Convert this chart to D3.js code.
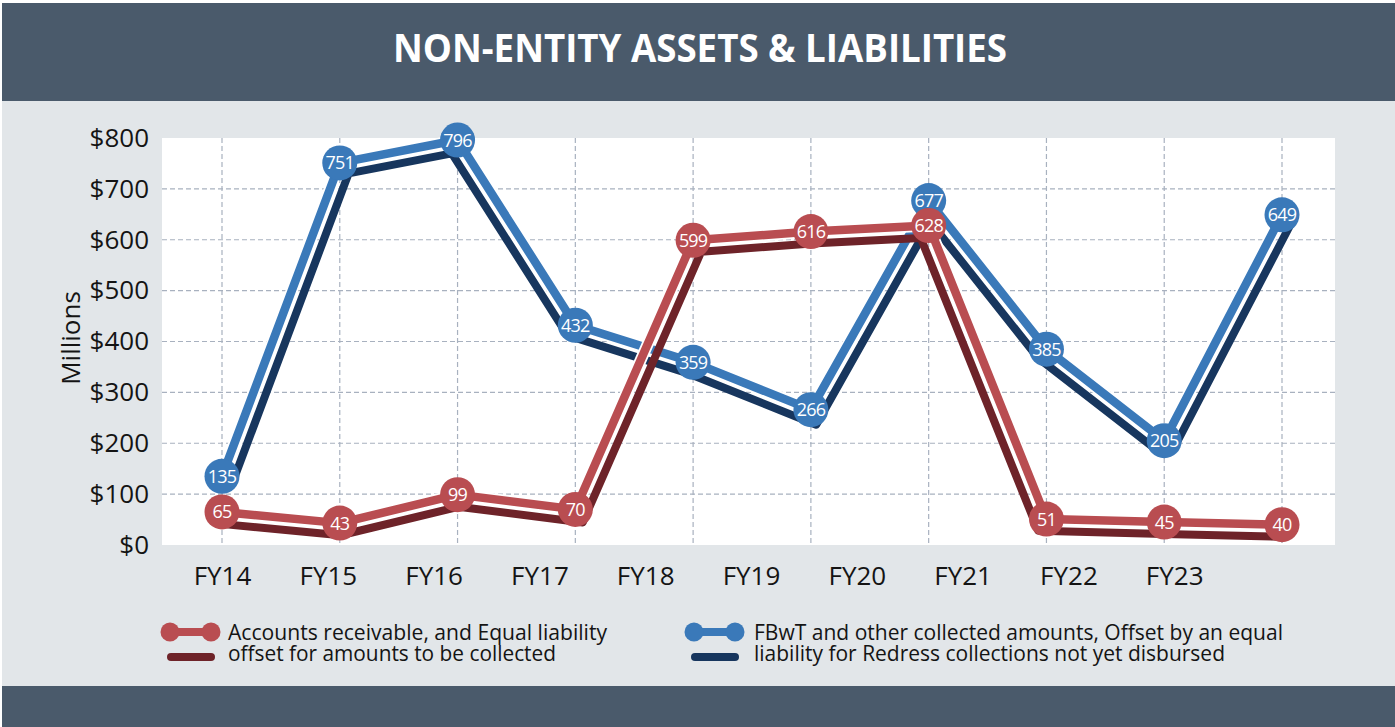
<!DOCTYPE html>
<html><head><meta charset="utf-8">
<script src="https://cdn.jsdelivr.net/npm/d3@7"></script>
<style>body{margin:0;background:#fff}svg{display:block}</style>
</head><body><svg id="c" width="1395" height="727"></svg>
<script>
// ---- data ----
const categories = ["FY14","FY15","FY16","FY17","FY18","FY19","FY20","FY21","FY22","FY23"];
const receivable = [65,43,99,70,599,616,628,51,45,40];
const collected  = [135,751,796,432,359,266,677,385,205,649];
const yTickValues = [0,100,200,300,400,500,600,700,800];
const axisSlots = 11;
const titleText = "NON-ENTITY ASSETS & LIABILITIES";
const yTitle = "Millions";
const legendReceivable = ["Accounts receivable, and Equal liability","offset for amounts to be collected"];
const legendCollected = ["FBwT and other collected amounts, Offset by an equal","liability for Redress collections not yet disbursed"];

// ---- style ----
const C = {header:"#4a5a6b", body:"#e2e6e9", red:"#b94d51", redDark:"#6e2329",
           blue:"#3a79b9", blueDark:"#17365e", grid:"#a8b1bf", text:"#141414"};
const FONT = "'Open Sans', 'Noto Sans', sans-serif";
const P = {left:162, right:1335, top:138, bottom:545};
const SHADOW = 12;

const svg = d3.select("#c");
svg.append("rect").attr("width",1395).attr("height",727).attr("fill","#fff");
svg.append("rect").attr("x",2).attr("y",3).attr("width",1393).attr("height",98).attr("fill",C.header);
svg.append("rect").attr("x",2).attr("y",101).attr("width",1393).attr("height",585).attr("fill",C.body);
svg.append("rect").attr("x",2).attr("y",686).attr("width",1393).attr("height",41).attr("fill",C.header);

svg.append("text").attr("x",700).attr("y",62).attr("text-anchor","middle")
  .attr("font-family",FONT).attr("font-weight",700).attr("font-size",40).attr("fill","#fff")
  .attr("textLength",614).attr("lengthAdjust","spacingAndGlyphs").text(titleText);

svg.append("rect").attr("x",P.left).attr("y",P.top).attr("width",P.right-P.left)
  .attr("height",P.bottom-P.top).attr("fill","#fff");

const y = d3.scaleLinear().domain([0,800]).range([P.bottom,P.top]);
const x = d3.scalePoint().domain(categories).range([222,1282]);
const xl = d3.scalePoint().domain(d3.range(axisSlots)).range([222,1280]);

// grid
const grid = svg.append("g").attr("stroke",C.grid).attr("stroke-width",1.2).attr("stroke-dasharray","5,3");
grid.selectAll("line.h").data(yTickValues.filter(v=>v>0 && v<800)).join("line")
  .attr("x1",P.left).attr("x2",P.right).attr("y1",d=>y(d)).attr("y2",d=>y(d));
grid.selectAll("line.v").data(categories).join("line")
  .attr("x1",d=>x(d)).attr("x2",d=>x(d)).attr("y1",P.top).attr("y2",P.bottom);

// axes
const ya = svg.append("g").attr("transform","translate(149,0)")
  .call(d3.axisLeft(y).tickValues(yTickValues).tickFormat(d=>"$"+d).tickSize(0).tickPadding(0));
ya.select(".domain").remove();
ya.selectAll("text").attr("font-family",FONT).attr("font-size",26).attr("fill",C.text);

const xa = svg.append("g").attr("transform","translate(0,567)")
  .call(d3.axisBottom(xl).tickFormat(i=>categories[i] ?? "").tickSize(0).tickPadding(0));
xa.select(".domain").remove();
xa.selectAll("text").attr("font-family",FONT).attr("font-size",26).attr("fill",C.text);

svg.append("text").attr("transform","translate(80,338) rotate(-90)").attr("text-anchor","middle")
  .attr("font-family",FONT).attr("font-size",26).attr("fill",C.text).text(yTitle);

// parallel offset (below side) of a polyline, used for the "equal liability" shadow line
function offsetPoly(pts, d){
  const segs = [];
  for(let i=0;i<pts.length-1;i++){
    const [x1,y1]=pts[i],[x2,y2]=pts[i+1];
    const dx=x2-x1, dy=y2-y1, L=Math.hypot(dx,dy);
    const nx=-dy/L*d, ny=dx/L*d;
    segs.push([[x1+nx,y1+ny],[x2+nx,y2+ny]]);
  }
  const out=[segs[0][0]];
  for(let i=0;i<segs.length-1;i++){
    const [p1,p2]=segs[i],[p3,p4]=segs[i+1];
    const d1x=p2[0]-p1[0], d1y=p2[1]-p1[1], d2x=p4[0]-p3[0], d2y=p4[1]-p3[1];
    const den=d1x*d2y-d1y*d2x;
    let ip=null;
    if(Math.abs(den)>1e-6){
      const t=((p3[0]-p1[0])*d2y-(p3[1]-p1[1])*d2x)/den;
      ip=[p1[0]+t*d1x,p1[1]+t*d1y];
      const orig=pts[i+1];
      if(Math.hypot(ip[0]-orig[0],ip[1]-orig[1])>d*1.35) ip=null;
    }
    if(ip) out.push(ip); else { out.push(p2); out.push(p3); }
  }
  out.push(segs[segs.length-1][1]);
  return out;
}

// series
const line = d3.line().x((d,i)=>x(categories[i])).y(d=>y(d));
function series(vals, bright, dark){
  const g = svg.append("g");
  const pts = vals.map((d,i)=>[x(categories[i]), y(d)]);
  g.append("path").attr("d",d3.line()(offsetPoly(pts,SHADOW)))
    .attr("fill","none").attr("stroke",dark).attr("stroke-width",8)
    .attr("stroke-linejoin","round").attr("stroke-linecap","round");
  g.append("path").attr("d",line(vals)).attr("fill","none").attr("stroke","#fff").attr("stroke-width",12)
    .attr("stroke-linejoin","round").attr("stroke-linecap","round");
  g.append("path").attr("d",line(vals)).attr("fill","none").attr("stroke",bright).attr("stroke-width",8.5)
    .attr("stroke-linejoin","round").attr("stroke-linecap","round");
  const m = g.selectAll("g.m").data(vals).join("g")
    .attr("transform",(d,i)=>`translate(${x(categories[i])},${y(d)})`);
  m.append("circle").attr("r",17.5).attr("fill",bright);
  m.append("text").attr("text-anchor","middle").attr("dy","0.36em")
    .attr("font-family",FONT).attr("font-size",18).attr("letter-spacing",-0.8)
    .attr("fill","#fff").text(d=>d);
}
series(collected, C.blue, C.blueDark);
series(receivable, C.red, C.redDark);

// legend
function legend(x0, bright, dark, lines, tx, widths){
  const g = svg.append("g");
  g.append("line").attr("x1",x0).attr("x2",x0+41).attr("y1",632).attr("y2",632)
    .attr("stroke",bright).attr("stroke-width",8);
  g.append("circle").attr("cx",x0).attr("cy",632).attr("r",9.5).attr("fill",bright);
  g.append("circle").attr("cx",x0+41).attr("cy",632).attr("r",9.5).attr("fill",bright);
  g.append("line").attr("x1",x0+1).attr("x2",x0+41).attr("y1",657).attr("y2",657)
    .attr("stroke",dark).attr("stroke-width",8).attr("stroke-linecap","round");
  lines.forEach((t,i)=>{
    g.append("text").attr("x",tx).attr("y",640+i*21).attr("font-family",FONT).attr("font-size",21)
      .attr("fill",C.text).attr("textLength",widths[i]).attr("lengthAdjust","spacingAndGlyphs").text(t);
  });
}
legend(170, C.red, C.redDark, legendReceivable, 228, [379,328]);
legend(694, C.blue, C.blueDark, legendCollected, 754, [529,471]);
</script></body></html>
